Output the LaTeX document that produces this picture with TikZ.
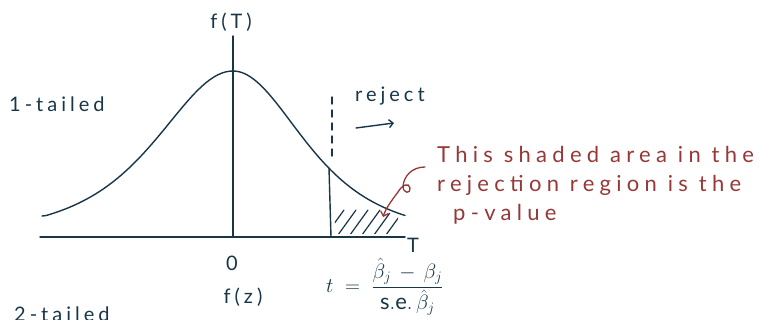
\documentclass[tikz,border=0pt]{standalone}
\usepackage{fontspec}
\usepackage{amsmath}
\setmainfont{Lato}
\newfontfamily\hand[LetterSpace=20]{Lato}
\newfontfamily\handwide[LetterSpace=24]{Lato}
\usetikzlibrary{arrows.meta, positioning}
\definecolor{inkblue}{RGB}{24, 54, 72}
\definecolor{inkred}{RGB}{150, 56, 56}
\tikzstyle{ink} = [draw=inkblue, line width=1.4pt, line cap=round, line join=round]
\tikzstyle{hatch} = [draw=inkblue, line width=1.2pt, line cap=round]
\tikzstyle{lbl} = [text=inkblue, font=\hand\fontsize{20}{24}\selectfont, inner sep=0pt]
\tikzstyle{note} = [text=inkred, font=\handwide\fontsize{22}{29}\selectfont, align=left, inner sep=0pt]

\begin{document}
\begin{tikzpicture}[x=1pt, y=-1pt,
    declare function={lft(\x)=237-166/(1+((\x-233)/140)^2)^2;
                      rgt(\x)=237-166/(1+((\x-233)/129)^2)^2;}]
    \useasboundingbox (0,0) rectangle (763,320);
    % axes
    \coordinate (xl) at (40,237);
    \coordinate (xr) at (405,237);
    \coordinate (yb) at (233,237);
    \coordinate (yt) at (233,36);
    \draw[ink] (xl) -- (xr);
    \draw[ink] (yb) -- (yt);
    % density curve
    \draw[ink] (42,216) -- plot[domain=46:233, samples=50] (\x,{lft(\x)})
        -- plot[domain=233:405, samples=50] (\x,{rgt(\x)});
    % critical value
    \coordinate (cv) at (329,{rgt(329)});
    \coordinate (cb) at (331,237);
    \draw[ink] (cv) -- (cb);
    \draw[ink, dash pattern=on 7pt off 6pt] (332,156) -- (332,95);
    % shaded tail
    \begin{scope}
        \clip (334,{rgt(334)+3}) -- plot[domain=334:398, samples=20] (\x,{rgt(\x)+3})
            -- (398,234) -- (335,234) -- cycle;
        \foreach \s in {0,12,...,96} {
            \draw[hatch] (318+\s,246) -- ++(26,-36);
        }
    \end{scope}
    % labels
    \node[lbl] (fT) at (231,22) {f(T)};
    \node[lbl, anchor=west] (one) at (9,104) {1-tailed};
    \node[lbl, anchor=west] (rej) at (355,96) {reject};
    \coordinate (ra) at (356,128);
    \coordinate (rb) at (394,123);
    \draw[ink, -{Straight Barb[length=4pt]}] (ra) -- (rb);
    \node[lbl] (T) at (413,245) {T};
    \node[lbl] (zero) at (232,263) {0};
    \node[lbl] (fz) at (243,297) {f(z)};
    \node[text=inkblue, font=\fontsize{22}{26}\selectfont, anchor=west, inner sep=0pt] (tstat) at (326,287)
        {$t \;=\; \dfrac{\hat{\beta}_j \,-\, \beta_j}{\mathrm{s.e.}\,\hat{\beta}_j}$};
    \node[lbl, anchor=north west] (two) at (14,307) {2-tailed};
    % annotation
    \node[note, anchor=north west] (pval) at (437,146)
        {This shaded area in the\\rejection region is the\\\hspace*{16pt}p-value};
    \coordinate (ps) at (425,167);
    \coordinate (pe) at (383,217);
    \draw[draw=inkred, line width=1.3pt, line cap=round, -{Straight Barb[length=4pt]}]
        (ps) .. controls (412,167) and (404,176) .. (403,186)
        .. controls (403,194) and (411,194) .. (410,188)
        .. controls (409,182) and (402,185) .. (398,192)
        .. controls (392,200) and (386,208) .. (pe);
\end{tikzpicture}
\end{document}
